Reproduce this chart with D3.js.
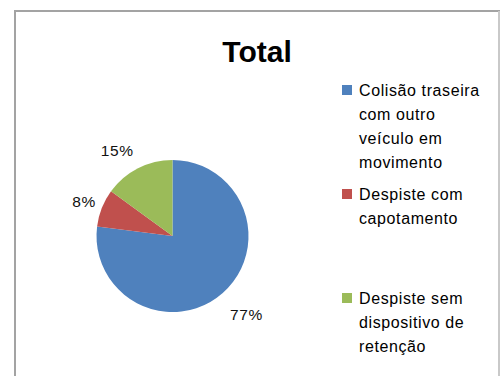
<!DOCTYPE html>
<html>
<head>
<meta charset="utf-8">
<script src="https://cdn.jsdelivr.net/npm/d3@7"></script>
<style>
  html, body { margin: 0; padding: 0; background: #fff; }
  svg { display: block; }
</style>
</head>
<body>
<svg id="chart" width="500" height="376"></svg>
<script>
// Accident types and their share of the total
const categories = [
  "Colisão traseira com outro veículo em movimento",
  "Despiste com capotamento",
  "Despiste sem dispositivo de retenção"
];
const values = [77, 8, 15];
const percentLabels = ["77%", "8%", "15%"];
const legendLines = [
  ["Colisão traseira", "com outro", "veículo em", "movimento"],
  ["Despiste com", "capotamento"],
  ["Despiste sem", "dispositivo de", "retenção"]
];
const colors = ["#4F81BD", "#C0504D", "#9BBB59"];

const svg = d3.select("#chart");
const font = "'Liberation Sans', Arial, sans-serif";

// chart frame
svg.append("rect")
  .attr("x", 15).attr("y", 11)
  .attr("width", 484).attr("height", 380)
  .attr("fill", "#fff")
  .attr("stroke", "#a3a3a3")
  .attr("stroke-width", 2);
svg.append("line")
  .attr("x1", 499).attr("x2", 499).attr("y1", 11).attr("y2", 376)
  .attr("stroke", "#d6d6d6").attr("stroke-width", 1.5);

// title
svg.append("text")
  .attr("x", 257).attr("y", 62)
  .attr("text-anchor", "middle")
  .attr("font-family", font)
  .attr("font-weight", "bold")
  .attr("font-size", 30)
  .attr("fill", "#000")
  .text("Total");

// pie
const cx = 172.5, cy = 236, r = 76;
const pie = d3.pie().sort(null).value(d => d)(values);
const arc = d3.arc().innerRadius(0).outerRadius(r);
const g = svg.append("g").attr("transform", `translate(${cx},${cy})`);
g.selectAll("path")
  .data(pie)
  .join("path")
  .attr("d", arc)
  .attr("fill", (d, i) => colors[i]);

// percentage labels placed outside each slice, along its mid-angle (best-fit nudges)
const labelRadius = [108, 95, 101];
const labelNudge = [[2.5, -3], [0, 0], [-9.5, 4]];
g.selectAll("text.pct")
  .data(pie)
  .join("text")
  .attr("class", "pct")
  .attr("transform", (d, i) => {
    const a = (d.startAngle + d.endAngle) / 2;
    const x = Math.sin(a) * labelRadius[i] + labelNudge[i][0];
    const y = -Math.cos(a) * labelRadius[i] + labelNudge[i][1];
    return `translate(${x},${y})`;
  })
  .attr("text-anchor", "middle")
  .attr("dy", "0.36em")
  .attr("font-family", font)
  .attr("font-size", 15.5)
  .attr("letter-spacing", 0.6)
  .attr("fill", "#111")
  .text((d, i) => percentLabels[i]);

// legend
const legendTops = [96, 200, 304];
const lineH = 24;
const legend = svg.append("g");
categories.forEach((c, i) => {
  const item = legend.append("g");
  item.append("rect")
    .attr("x", 342).attr("y", legendTops[i] - 11)
    .attr("width", 10).attr("height", 10)
    .attr("fill", colors[i]);
  legendLines[i].forEach((line, j) => {
    item.append("text")
      .attr("x", 359).attr("y", legendTops[i] + j * lineH)
      .attr("font-family", font)
      .attr("font-size", 16)
      .attr("letter-spacing", 0.6)
      .attr("fill", "#000")
      .text(line);
  });
});
</script>
</body>
</html>
